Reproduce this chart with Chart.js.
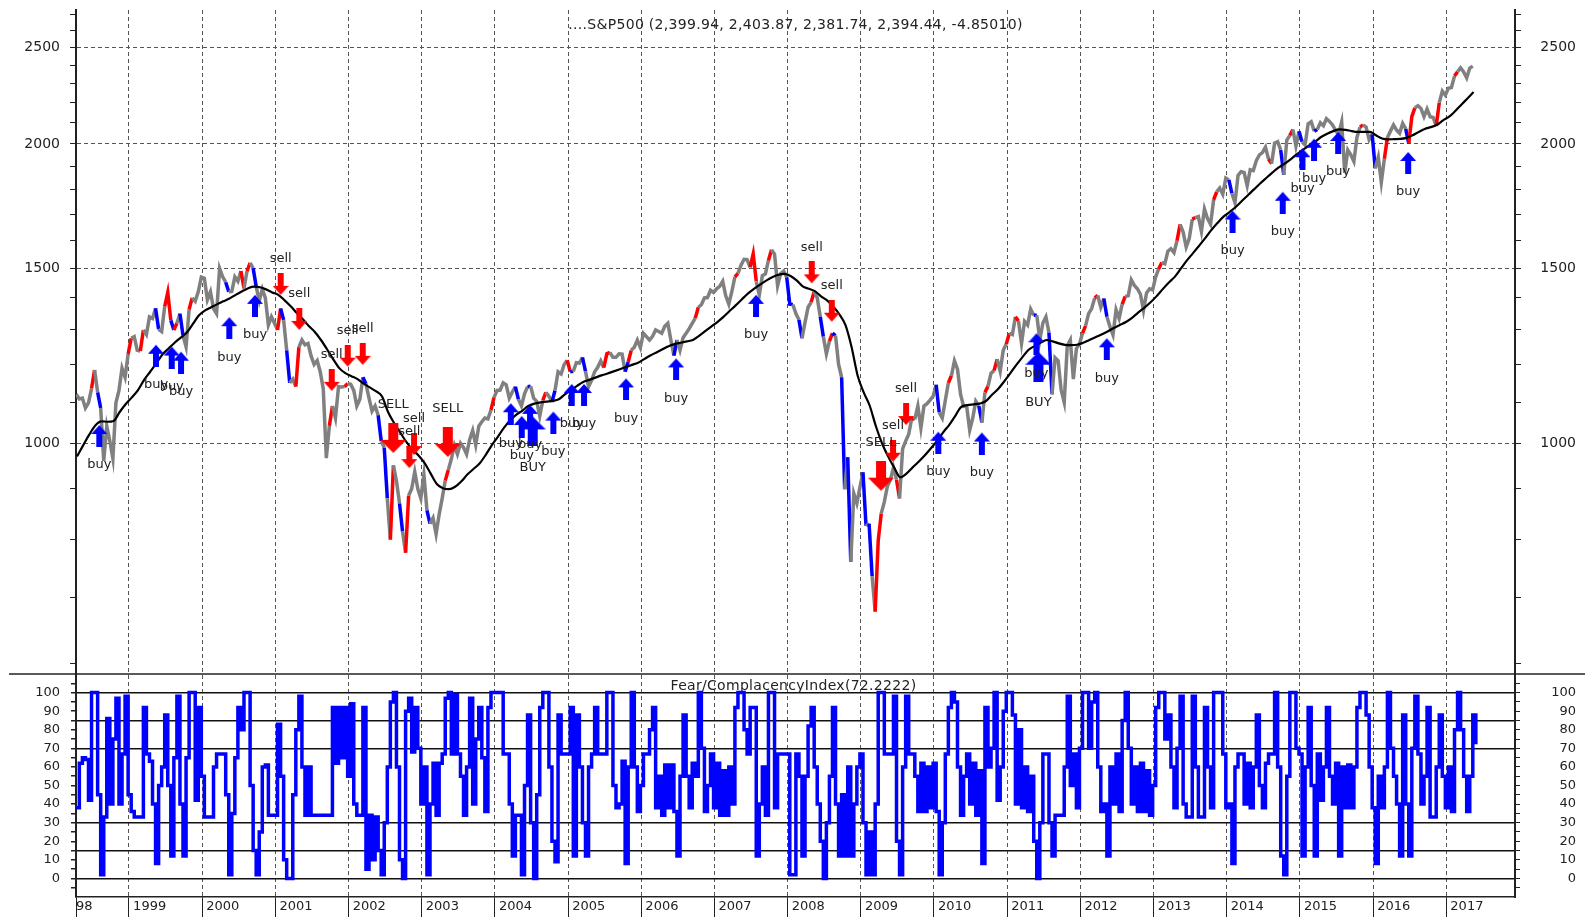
<!DOCTYPE html>
<html>
<head>
<meta charset="utf-8">
<script src="https://cdn.jsdelivr.net/npm/chart.js@4.4.0/dist/chart.umd.min.js"></script>
<style>
  html, body { margin: 0; padding: 0; background: #fff; overflow: hidden; }
  canvas { display: block; }
</style>
</head>
<body>
<canvas id="chart" width="1585" height="917"></canvas>
<script>
// S&P500 with 40-week average, buy/sell signals and the Fear/Complacency index below

// semi-monthly S&P500 closes, Apr 1998 .. May 2017 (two per month)
const seriesStart = 1998.28;
const priceValues = [
  1120,1108,1110,1085,1098,1135,1185,1125,1085,960,1040,1005,965,1098,1130,1190,1165,1229,
  1275,1280,1240,1238,1300,1286,1340,1335,1367,1302,1295,1373,1418,1329,1300,1320,1350,1283,1250,1363,1400,1389,1420,1469,
  1465,1394,1420,1366,1350,1499,1470,1452,1420,1421,1470,1455,1490,1431,1490,1518,1500,1437,1390,1429,1400,1315,1340,1320,
  1300,1366,1330,1240,1150,1160,1140,1249,1270,1256,1260,1224,1200,1211,1180,1134,966,1041,1090,1060,1140,1139,1140,1148,
  1146,1130,1090,1107,1165,1147,1110,1077,1090,1067,1005,990,880,800,950,916,870,815,776,886,900,936,900,880,
  930,856,830,841,810,848,880,917,940,964,995,975,1000,990,975,1008,1030,996,1040,1051,1060,1058,1080,1112,
  1130,1131,1150,1145,1110,1126,1140,1107,1090,1121,1140,1141,1110,1102,1065,1104,1125,1115,1100,1130,1180,1174,1200,1212,
  1180,1181,1205,1204,1220,1181,1140,1157,1180,1192,1210,1191,1230,1234,1220,1220,1230,1229,1180,1207,1240,1249,1270,1248,
  1290,1280,1270,1281,1300,1295,1290,1311,1320,1270,1225,1270,1240,1277,1290,1304,1320,1336,1370,1378,1400,1401,1425,1418,
  1430,1438,1455,1407,1380,1421,1470,1482,1510,1531,1530,1503,1550,1455,1410,1474,1480,1527,1565,1549,1440,1481,1490,1468,
  1380,1379,1350,1331,1275,1323,1370,1386,1420,1400,1340,1280,1230,1267,1290,1283,1200,1165,899,968,760,890,870,903,
  935,826,830,735,677,798,850,873,905,919,945,919,880,987,1005,1021,1060,1057,1090,1036,1090,1096,1105,1115,
  1145,1074,1060,1104,1150,1169,1210,1187,1120,1089,1090,1031,1060,1102,1090,1049,1125,1141,1176,1183,1215,1181,1240,1258,
  1290,1286,1340,1327,1260,1326,1315,1364,1345,1345,1270,1321,1340,1292,1120,1219,1210,1131,1099,1253,1270,1160,1245,1258,
  1290,1312,1350,1366,1400,1408,1370,1398,1340,1310,1285,1362,1335,1379,1405,1407,1460,1441,1430,1412,1360,1416,1430,1426,
  1470,1498,1520,1515,1560,1569,1555,1598,1660,1631,1575,1606,1680,1686,1690,1633,1720,1682,1660,1757,1790,1806,1780,1848,
  1840,1783,1745,1859,1875,1872,1815,1884,1880,1924,1950,1960,1985,1931,1910,2003,2010,1972,1862,2018,2040,2068,1990,2059,
  2010,1995,2095,2105,2060,2068,2100,2086,2120,2107,2090,2063,2045,2104,1870,1972,1950,1920,2030,2079,2090,2080,2020,2044,
  1890,1940,1830,1932,2030,2060,2090,2065,2050,2097,2071,2001,2130,2174,2185,2171,2130,2168,2130,2126,2085,2200,2260,2239,
  2275,2279,2340,2364,2385,2363,2330,2384,2394
];

// monthly values of the average line, Apr 1998 .. May 2017
const maStart = 1998.29;
const maValues = [
  970,995,1020,1042,1052,1051,1053,1075,1095,
  1112,1131,1158,1180,1203,1228,1245,1262,1277,1292,1318,1345,
  1360,1370,1380,1389,1398,1410,1421,1431,1437,1435,1428,1418,
  1410,1393,1374,1353,1333,1312,1294,1270,1243,1215,1190,1176,
  1168,1160,1148,1138,1128,1115,1075,1048,1025,1003,985,972,
  955,932,910,901,899,904,915,930,942,954,973,995,
  1015,1036,1054,1068,1078,1090,1096,1099,1101,1103,1107,1120,
  1131,1142,1152,1158,1164,1170,1175,1181,1187,1193,1199,1205,
  1215,1225,1234,1243,1252,1258,1262,1266,1270,1282,1296,1310,
  1324,1340,1358,1376,1395,1414,1430,1444,1457,1469,1477,1480,
  1473,1458,1438,1430,1422,1405,1392,1372,1348,1315,1250,1170,
  1125,1090,1040,1000,970,945,924,932,945,958,972,988,
  1005,1025,1043,1065,1088,1092,1094,1096,1102,1118,1133,1153,
  1175,1198,1220,1241,1252,1262,1270,1266,1260,1256,1255,1256,
  1262,1270,1278,1286,1295,1306,1315,1324,1337,1353,1368,1385,
  1405,1428,1450,1470,1498,1527,1553,1580,1608,1638,1665,1690,
  1708,1728,1752,1776,1800,1825,1848,1871,1893,1910,1930,1952,
  1972,1992,2010,2032,2048,2060,2068,2066,2060,2056,2056,2056,
  2040,2025,2021,2022,2023,2028,2040,2056,2070,2079,2090,2112,
  2130,2158,2190,2222,2255
];

// where the price line is drawn red / blue instead of grey
const redMarks = [1998.51,1999.0,1999.17,1999.53,1999.64,1999.83,2000.54,2000.65,2001.06,2001.3,2001.77,2001.98,
  2002.59,2002.8,2003.34,2003.98,2004.66,2005.0,2005.53,2005.85,2006.76,2007.3,2007.53,2007.76,2008.33,2008.6,
  2009.2,2009.25,2009.5,2009.72,2010.23,2010.7,2010.86,2010.99,2011.13,2012.05,2012.21,2012.59,2013.08,2013.35,
  2013.56,2013.86,2014.59,2014.88,2015.83,2016.18,2016.53,2016.88,2017.13];
const blueMarks = [1998.58,1999.38,1999.6,1999.72,2000.36,2000.72,2001.1,2001.18,2002.22,2002.43,2002.52,2002.7,
  2003.09,2004.3,2004.48,2004.8,2005.07,2005.23,2005.8,2006.46,2007.57,2008.03,2008.19,2008.47,2008.65,2008.74,
  2008.85,2009.06,2009.15,2010.07,2010.65,2011.37,2011.59,2012.36,2014.07,2014.77,2015.02,2015.2,2016.02,2016.48];

// signals
const buyYears = [1998.594,1999.369,1999.584,1999.711,2000.371,2000.722,2004.217,2004.367,2004.48,2004.799,2005.05,
  2005.218,2005.792,2006.476,2007.569,2010.059,2010.654,2011.4,2012.362,2014.08,2014.766,2015.036,2015.194,2015.523,2016.48];
const buyPrices = [1043,1256,1251,1236,1339,1410,1097,1065,1093,1076,1147,1147,1162,1217,1410,1027,1025,1290,1275,
  1714,1790,1980,2024,2056,1963];
const bigBuyYears = [2004.517, 2011.427];
const bigBuyPrices = [1064, 1236];
const sellYears = [2001.073,2001.327,2001.77,2001.989,2002.194,2002.895,2002.831,2008.33,2008.604,2009.619,2009.441];
const sellPrices = [1410,1300,1129,1194,1199,973,944,1448,1325,1043,958];
const bigSellYears = [2002.612, 2003.356, 2009.277];
const bigSellPrices = [978, 969, 896];

// Fear/Complacency index, semi-monthly, same dates as the price
const fearValues = [
  38,62,65,64,42,100,100,45,2,33, 86,40,75,97,40,67,98,45,36,33, 33,33,92,67,63,40,8,50,60,88,
  50,12,65,98,40,12,65,100,100,42, 92,55,33,33,33,60,67,67,67,45, 2,35,65,92,80,100,100,50,15,2,
  25,60,61,34,34,34,83,55,10,0, 0,45,80,98,60,34,60,34,34,34, 34,34,34,34,92,62,92,65,92,55,
  94,40,34,34,92,5,34,10,33,15, 2,30,60,95,100,60,10,0,90,97, 68,92,70,40,60,2,40,62,34,62,
  67,97,
  100,67,99,67,55,34,60,97,40,75, 92,65,36,92,100,100,100,100,67,67, 40,12,34,34,2,50,88,30,0,45,
  92,100,100,60,20,9,88,67,67,67, 92,12,88,60,30,12,60,67,92,67, 67,67,100,100,50,38,40,63,8,60,
  100,60,36,50,67,67,80,92,38,55, 34,61,38,61,36,12,55,88,55,38, 62,55,100,70,36,50,67,38,62,34,
  58,34,60,40,92,100,100,80,67,92, 92,12,40,60,34,100,100,38,67,67, 67,67,2,2,67,55,12,55,82,
  92,60,40,20,0,30,55,92,40,12, 45,12,60,12,40,60,67,30,2,25, 2,40,100,100,67,67,67,98,20,2,
  60,98,67,67,55,36,62,36,60,38, 62,36,2,30,67,92,100,95,60,34, 55,67,40,62,34,58,8,92,60,70,
  100,42,60,90,100,100,88,40,80,38, 60,36,55,20,0,30,67,67,30,12, 34,34,34,60,98,50,67,38,70,100,
  100,70,95,100,60,36,40,12,60,40, 67,36,85,100,70,40,60,36,62,36, 58,34,50,92,100,100,75,88,
  60,38,70,98,40,33,33,98,60,33, 33,92,60,38,100,100,100,67,38,40, 8,60,67,67,40,62,38,60,88,50,
  38,62,67,67,100,60,12,2,55,100, 100,70,67,12,60,92,50,12,67,42, 60,92,55,40,62,12,60,38,61,38,
  60,92,100,100,88,60,38,8,55,38, 60,100,70,55,40,12,88,40,12,70, 98,67,40,55,92,33,33,60,88,55,
  38,60,36,80,100,80,55,36,55,88, 72.2222
];

// axes
const xMin = 1998.276, xMax = 2017.94;
const yearTicks = [1999,2000,2001,2002,2003,2004,2005,2006,2007,2008,2009,2010,2011,2012,2013,2014,2015,2016,2017];
const priceMin = 586, priceMax = 2727;
const priceTicks = [600,700,800,900,1000,1100,1200,1300,1400,1500,1600,1700,1800,1900,2000,2100,2200,2300,2400,2500,2600,2700];
const priceLabels = [1000, 1500, 2000, 2500];
const fearLines = [0, 15, 30, 70, 85, 100];

const titleText = '....S&P500 (2,399.94, 2,403.87, 2,381.74, 2,394.44, -4.85010)';
const fearTitle = 'Fear/ComplacencyIndex(72.2222)';

Chart.defaults.font.family = '"DejaVu Sans", sans-serif';
Chart.defaults.color = '#222';

function arrowImage(color, dir, big) {
  const w = big ? 26 : 16, h = big ? 30 : 22, head = big ? 13 : 9, shaft = big ? 10 : 6;
  const c = document.createElement('canvas');
  c.width = w; c.height = h * 2;
  const g = c.getContext('2d');
  const m = w / 2, s = shaft / 2;
  g.fillStyle = color;
  g.beginPath();
  if (dir === 'up') {
    g.moveTo(m, h); g.lineTo(w, h + head); g.lineTo(m + s, h + head); g.lineTo(m + s, 2 * h);
    g.lineTo(m - s, 2 * h); g.lineTo(m - s, h + head); g.lineTo(0, h + head);
  } else {
    g.moveTo(m, h); g.lineTo(w, h - head); g.lineTo(m + s, h - head); g.lineTo(m + s, 0);
    g.lineTo(m - s, 0); g.lineTo(m - s, h - head); g.lineTo(0, h - head);
  }
  g.closePath();
  g.fill();
  return c;
}

// one segment per mark
function nearMark(marks, c) {
  const mid = (c.p0.parsed.x + c.p1.parsed.x) / 2;
  return marks.some(m => Math.abs(m - mid) < 0.021);
}

function signalSet(years, prices, img, text, offset) {
  return {
    data: years.map((x, i) => ({ x, y: prices[i] })),
    yAxisID: 'y', showLine: false, pointStyle: img, pointRadius: 8,
    signalText: text, signalOffset: offset, order: 0
  };
}

const signalLabels = {
  id: 'signalLabels',
  afterDatasetsDraw(chart) {
    const ctx = chart.ctx;
    ctx.save();
    ctx.font = '13px "DejaVu Sans"';
    ctx.fillStyle = '#222';
    ctx.textAlign = 'center';
    ctx.textBaseline = 'middle';
    chart.data.datasets.forEach((ds, i) => {
      if (!ds.signalText) return;
      chart.getDatasetMeta(i).data.forEach(p => ctx.fillText(ds.signalText, p.x, p.y + ds.signalOffset));
    });
    // divider between the two panes
    const yb = chart.scales.y.bottom;
    ctx.strokeStyle = '#222';
    ctx.lineWidth = 1.5;
    ctx.beginPath();
    ctx.moveTo(9, yb);
    ctx.lineTo(chart.width, yb);
    ctx.stroke();
    ctx.restore();
  }
};

const paneTitles = {
  id: 'paneTitles',
  beforeDatasetsDraw(chart) {
    const ctx = chart.ctx, a = chart.chartArea;
    const cx = (a.left + a.right) / 2;
    ctx.save();
    ctx.font = '14px "DejaVu Sans"';
    ctx.letterSpacing = '0.3px';
    ctx.fillStyle = '#222';
    ctx.textAlign = 'center';
    ctx.textBaseline = 'middle';
    ctx.fillText(titleText, cx, a.top + 15);
    ctx.fillText(fearTitle, cx - 2, chart.scales.y3.top + 12);
    ctx.restore();
  }
};

function noPad(s) {
  s.paddingTop = 0; s.paddingBottom = 0; s.paddingLeft = 0; s.paddingRight = 0;
}
const leftWidth = s => { s.width = 76; noPad(s); };
const rightWidth = s => { s.width = 61; noPad(s); };

new Chart(document.getElementById('chart'), {
  type: 'line',
  data: {
    datasets: [
      signalSet(buyYears, buyPrices, arrowImage('#0000ff', 'up', false), 'buy', 40),
      signalSet(bigBuyYears, bigBuyPrices, arrowImage('#0000ff', 'up', true), 'BUY', 51),
      signalSet(sellYears, sellPrices, arrowImage('#ff0000', 'down', false), 'sell', -36),
      signalSet(bigSellYears, bigSellPrices, arrowImage('#ff0000', 'down', true), 'SELL', -48),
      {
        data: maValues.map((v, i) => ({ x: maStart + i / 12, y: v })),
        yAxisID: 'y', borderColor: '#000', borderWidth: 2.2, pointRadius: 0,
        cubicInterpolationMode: 'monotone', order: 1
      },
      {
        data: priceValues.map((v, i) => ({ x: seriesStart + i / 24, y: v })),
        yAxisID: 'y', borderColor: '#808080', borderWidth: 3.5, pointRadius: 0, tension: 0, order: 2,
        segment: {
          borderColor: c => nearMark(redMarks, c) ? '#ff0000' : (nearMark(blueMarks, c) ? '#0000ff' : undefined)
        }
      },
      {
        data: fearValues.map((v, i) => ({ x: seriesStart + i / 24, y: v })),
        yAxisID: 'y3', borderColor: '#0000ff', borderWidth: 3.5, pointRadius: 0, stepped: true, order: 3
      }
    ]
  },
  options: {
    responsive: false,
    animation: false,
    layout: { padding: { top: 10, right: 9, left: 0, bottom: 0 } },
    plugins: { legend: { display: false }, tooltip: { enabled: false } },
    scales: {
      x: {
        type: 'linear', min: xMin, max: xMax,
        afterBuildTicks: s => { s.ticks = [{ value: xMin }].concat(yearTicks.map(v => ({ value: v }))); },
        afterFit: s => { s.height = 20; noPad(s); },
        ticks: {
          autoSkip: false, maxRotation: 0, align: 'start', padding: -18,
          font: { size: 13 },
          callback: v => v === xMin ? '98' : ' ' + v
        },
        grid: {
          color: c => c.index === 0 ? 'transparent' : '#555',
          lineWidth: 1, tickLength: 20, tickColor: '#222'
        },
        border: { color: '#222', width: 1.5, dash: [4, 3] }
      },
      y: {
        type: 'logarithmic', position: 'left', stack: 'panesL', stackWeight: 664, weight: 2,
        min: priceMin, max: priceMax,
        afterBuildTicks: s => { s.ticks = priceTicks.map(v => ({ value: v })); },
        afterFit: leftWidth,
        ticks: {
          autoSkip: false, padding: 10, font: { size: 14 },
          callback: v => priceLabels.includes(v) ? String(v) : ''
        },
        grid: {
          color: c => priceLabels.includes(c.tick.value) ? '#555' : 'transparent',
          tickColor: '#222', tickLength: 6
        },
        border: { color: '#222', width: 2, dash: [4, 3] }
      },
      y3: {
        type: 'linear', position: 'left', stack: 'panesL', stackWeight: 223, weight: 1,
        min: -10, max: 110,
        afterBuildTicks: s => {
          const t = [];
          for (let v = -5; v <= 105; v += 5) t.push({ value: v });
          s.ticks = t;
        },
        afterFit: leftWidth,
        ticks: {
          autoSkip: false, padding: 11, font: { size: 13 },
          callback: v => (v >= 0 && v <= 100 && v % 10 === 0) ? String(v) : ''
        },
        grid: {
          color: c => fearLines.includes(c.tick.value) ? '#111' : 'transparent',
          lineWidth: 1.5, tickColor: '#222', tickLength: 5
        },
        border: { color: '#222', width: 2 }
      },
      yr: {
        type: 'logarithmic', position: 'right', stack: 'panesR', stackWeight: 664, weight: 1,
        min: priceMin, max: priceMax,
        afterBuildTicks: s => { s.ticks = priceTicks.map(v => ({ value: v })); },
        afterFit: rightWidth,
        ticks: {
          autoSkip: false, crossAlign: 'far', font: { size: 14 },
          callback: v => priceLabels.includes(v) ? String(v) : ''
        },
        grid: { drawOnChartArea: false, tickColor: '#222', tickLength: 6 },
        border: { color: '#222', width: 2 }
      },
      y3r: {
        type: 'linear', position: 'right', stack: 'panesR', stackWeight: 223, weight: 2,
        min: -10, max: 110,
        afterBuildTicks: s => {
          const t = [];
          for (let v = -5; v <= 105; v += 5) t.push({ value: v });
          s.ticks = t;
        },
        afterFit: rightWidth,
        ticks: {
          autoSkip: false, crossAlign: 'far', font: { size: 13 },
          callback: v => (v >= 0 && v <= 100 && v % 10 === 0) ? String(v) : ''
        },
        grid: { drawOnChartArea: false, tickColor: '#222', tickLength: 5 },
        border: { color: '#222', width: 2 }
      }
    }
  },
  plugins: [paneTitles, signalLabels]
});
</script>
</body>
</html>
